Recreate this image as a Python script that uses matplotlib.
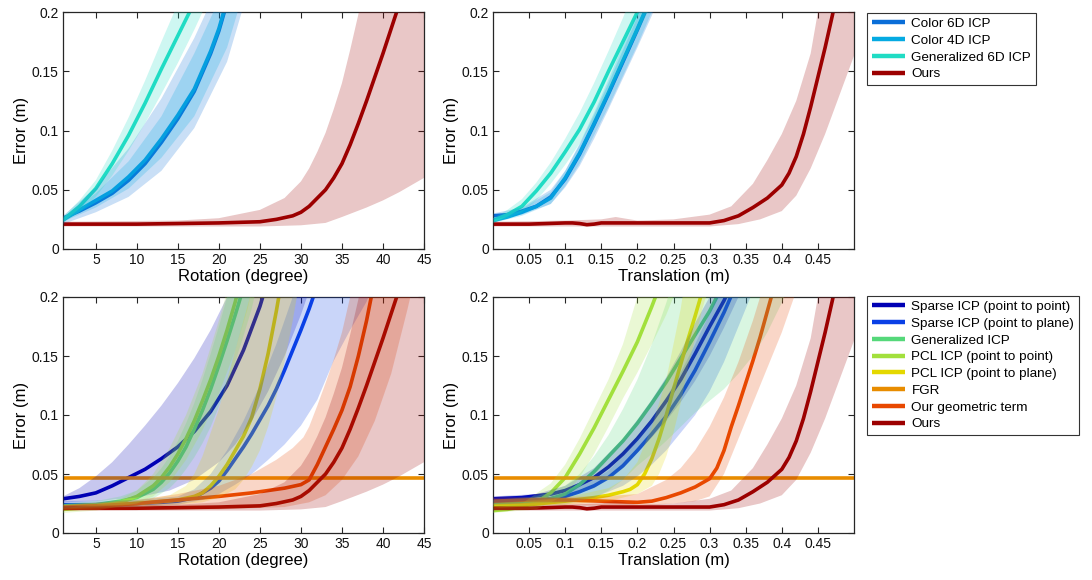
import numpy as np
import matplotlib
matplotlib.use("Agg")
import matplotlib.pyplot as plt

plt.rcParams['font.family'] = ['Liberation Sans', 'DejaVu Sans']

# ---------------- axis ticks / labels ----------------
ROT_TICKS = [5, 10, 15, 20, 25, 30, 35, 40, 45]
ROT_TICK_LABELS = ['5', '10', '15', '20', '25', '30', '35', '40', '45']
TRANS_TICKS = [0.05, 0.1, 0.15, 0.2, 0.25, 0.3, 0.35, 0.4, 0.45]
TRANS_TICK_LABELS = ['0.05', '0.1', '0.15', '0.2', '0.25', '0.3', '0.35', '0.4', '0.45']
Y_TICKS = [0, 0.05, 0.1, 0.15, 0.2]
Y_TICK_LABELS = ['0', '0.05', '0.1', '0.15', '0.2']
ROT_LIM = [1, 45]
TRANS_LIM = [0, 0.5]

TOP_LABELS = ['Color 6D ICP', 'Color 4D ICP', 'Generalized 6D ICP', 'Ours']
BOTTOM_LABELS = ['Sparse ICP (point to point)', 'Sparse ICP (point to plane)', 'Generalized ICP',
                 'PCL ICP (point to point)', 'PCL ICP (point to plane)', 'FGR',
                 'Our geometric term', 'Ours']

# ---------------- colours ----------------
C_COLOR6D = '#0a6ed8'
C_COLOR4D = '#05aae2'
C_GEN6D = '#20dcc4'
C_OURS = '#9c0000'
C_SP2P = '#0000b4'
C_SP2PL = '#0a40e6'
C_GICP = '#55d87a'
C_PCLP2P = '#a2e03c'
C_PCLP2PL = '#e4d800'
C_FGR = '#e88c00'
C_GEO = '#e84800'

# ================= ROTATION: Ours =================
rot_ours_x = [1, 10, 15, 20, 25, 27, 29, 30, 31, 32, 33, 34, 35, 36, 37, 38, 39, 40, 41, 42]
rot_ours_y = [0.021, 0.021, 0.0215, 0.022, 0.023, 0.025, 0.028, 0.031, 0.036, 0.043, 0.050, 0.060,
              0.072, 0.088, 0.106, 0.125, 0.145, 0.165, 0.186, 0.207]
rot_ours_hi_x = [1, 15, 20, 25, 28, 30, 31, 32, 33, 34, 35, 36, 37, 37.5]
rot_ours_hi_y = [0.023, 0.024, 0.026, 0.033, 0.043, 0.057, 0.068, 0.082, 0.098, 0.118, 0.14, 0.168, 0.198, 0.215]
rot_ours_lo_x = [1, 25, 30, 33, 35, 38, 40, 42, 45]
rot_ours_lo_y = [0.019, 0.019, 0.020, 0.022, 0.027, 0.035, 0.041, 0.048, 0.060]

# ---- Rotation: Generalized 6D ICP ----
rot_g6d_x = [1, 3, 5, 7, 9, 11, 13, 15, 17]
rot_g6d_y = [0.0245, 0.036, 0.051, 0.072, 0.096, 0.123, 0.152, 0.180, 0.208]
rot_g6d_hi_x = [1, 3, 5, 7, 9, 11, 13, 15]
rot_g6d_hi_y = [0.027, 0.041, 0.058, 0.083, 0.111, 0.142, 0.175, 0.207]
rot_g6d_lo_x = [1, 3, 5, 7, 9, 11, 13, 15, 17, 18]
rot_g6d_lo_y = [0.022, 0.031, 0.044, 0.062, 0.083, 0.106, 0.131, 0.157, 0.185, 0.2]

# ---- Rotation: Color 4D ICP ----
rot_c4d_x = [1, 3, 5, 7, 9, 11, 13, 15, 17, 19, 20, 21]
rot_c4d_y = [0.0245, 0.033, 0.041, 0.049, 0.061, 0.075, 0.093, 0.113, 0.135, 0.167, 0.186, 0.21]
rot_c4d_hi_x = [1, 5, 9, 13, 17, 20]
rot_c4d_hi_y = [0.026, 0.047, 0.074, 0.112, 0.165, 0.21]
rot_c4d_lo_x = [1, 5, 9, 13, 17, 21, 22.5]
rot_c4d_lo_y = [0.023, 0.035, 0.051, 0.077, 0.112, 0.17, 0.205]

# ---- Rotation: Color 6D ICP ----
rot_c6d_x = [1, 3, 5, 7, 9, 11, 13, 15, 17, 19, 20, 21]
rot_c6d_y = [0.026, 0.032, 0.039, 0.047, 0.058, 0.072, 0.090, 0.110, 0.133, 0.165, 0.184, 0.208]
rot_c6d_hi_x = [1, 5, 9, 13, 17, 19]
rot_c6d_hi_y = [0.028, 0.052, 0.085, 0.127, 0.178, 0.208]
rot_c6d_lo_x = [1, 5, 9, 13, 17, 21, 23]
rot_c6d_lo_y = [0.021, 0.031, 0.044, 0.066, 0.102, 0.158, 0.205]

# ================= TRANSLATION: Ours =================
tr_ours_x = [0, 0.05, 0.1, 0.11, 0.12, 0.13, 0.14, 0.15, 0.2, 0.25, 0.3, 0.32, 0.34, 0.36, 0.38,
             0.40, 0.41, 0.42, 0.43, 0.44, 0.45, 0.46, 0.47, 0.48]
tr_ours_y = [0.021, 0.021, 0.022, 0.022, 0.0215, 0.0205, 0.021, 0.022, 0.022, 0.022, 0.022, 0.024,
             0.028, 0.035, 0.043, 0.054, 0.064, 0.078, 0.097, 0.12, 0.145, 0.17, 0.197, 0.225]
tr_ours_hi_x = [0, 0.1, 0.15, 0.17, 0.2, 0.25, 0.3, 0.33, 0.36, 0.38, 0.40, 0.42, 0.44, 0.45, 0.455]
tr_ours_hi_y = [0.023, 0.024, 0.025, 0.027, 0.024, 0.025, 0.029, 0.036, 0.055, 0.075, 0.097, 0.125,
                0.165, 0.2, 0.215]
tr_ours_lo_x = [0, 0.3, 0.34, 0.37, 0.40, 0.42, 0.44, 0.46, 0.48, 0.5]
tr_ours_lo_y = [0.019, 0.019, 0.021, 0.025, 0.032, 0.045, 0.068, 0.097, 0.13, 0.163]

# ---- Translation: Generalized 6D ICP ----
tr_g6d_x = [0, 0.02, 0.04, 0.06, 0.08, 0.1, 0.12, 0.14, 0.16, 0.18, 0.2, 0.22]
tr_g6d_y = [0.024, 0.029, 0.036, 0.049, 0.064, 0.082, 0.101, 0.124, 0.15, 0.175, 0.2, 0.226]
tr_g6d_hi_x = [0, 0.02, 0.04, 0.06, 0.08, 0.1, 0.12, 0.14, 0.16, 0.18, 0.19]
tr_g6d_hi_y = [0.026, 0.033, 0.042, 0.056, 0.073, 0.093, 0.115, 0.14, 0.167, 0.195, 0.21]
tr_g6d_lo_x = [0, 0.02, 0.04, 0.06, 0.08, 0.1, 0.12, 0.14, 0.16, 0.18, 0.2, 0.22, 0.23]
tr_g6d_lo_y = [0.022, 0.026, 0.031, 0.041, 0.055, 0.071, 0.089, 0.109, 0.133, 0.157, 0.182, 0.207, 0.22]

# ---- Translation: Color 4D ICP ----
tr_c4d_x = [0, 0.02, 0.04, 0.06, 0.08, 0.1, 0.12, 0.14, 0.16, 0.18, 0.2, 0.22]
tr_c4d_y = [0.024, 0.027, 0.031, 0.036, 0.043, 0.060, 0.081, 0.106, 0.132, 0.159, 0.186, 0.214]
tr_c4d_hi_x = [0, 0.04, 0.08, 0.1, 0.12, 0.14, 0.16, 0.18, 0.2, 0.21]
tr_c4d_hi_y = [0.026, 0.034, 0.048, 0.066, 0.089, 0.115, 0.143, 0.172, 0.2, 0.215]
tr_c4d_lo_x = [0, 0.04, 0.08, 0.1, 0.12, 0.14, 0.16, 0.18, 0.2, 0.22, 0.23]
tr_c4d_lo_y = [0.022, 0.028, 0.038, 0.053, 0.072, 0.096, 0.12, 0.146, 0.172, 0.2, 0.215]

# ---- Translation: Color 6D ICP ----
tr_c6d_x = [0, 0.02, 0.04, 0.06, 0.08, 0.1, 0.12, 0.14, 0.16, 0.18, 0.2, 0.22]
tr_c6d_y = [0.028, 0.029, 0.032, 0.036, 0.044, 0.059, 0.080, 0.105, 0.131, 0.158, 0.185, 0.213]
tr_c6d_hi_x = [0, 0.04, 0.08, 0.1, 0.12, 0.14, 0.16, 0.18, 0.2, 0.21]
tr_c6d_hi_y = [0.030, 0.035, 0.05, 0.066, 0.088, 0.113, 0.14, 0.168, 0.196, 0.212]
tr_c6d_lo_x = [0, 0.04, 0.08, 0.1, 0.12, 0.14, 0.16, 0.18, 0.2, 0.22, 0.23]
tr_c6d_lo_y = [0.025, 0.029, 0.038, 0.052, 0.07, 0.093, 0.118, 0.144, 0.17, 0.197, 0.212]

# ================= ROTATION (bottom) =================
rot_sp2p_x = [1, 3, 5, 7, 9, 11, 13, 15, 17, 19, 21, 23, 25, 26]
rot_sp2p_y = [0.029, 0.031, 0.034, 0.040, 0.047, 0.054, 0.063, 0.073, 0.086, 0.103, 0.125, 0.155, 0.192, 0.215]
rot_sp2p_hi_x = [1, 3, 5, 7, 9, 11, 13, 15, 17, 19, 21, 22]
rot_sp2p_hi_y = [0.031, 0.038, 0.048, 0.06, 0.075, 0.091, 0.108, 0.127, 0.148, 0.172, 0.2, 0.215]
rot_sp2p_lo_x = [1, 5, 10, 14, 17, 20, 22, 24, 26, 28, 30, 31]
rot_sp2p_lo_y = [0.026, 0.027, 0.03, 0.036, 0.045, 0.06, 0.075, 0.095, 0.12, 0.15, 0.185, 0.205]

rot_sp2pl_x = [1, 5, 10, 13, 15, 17, 19, 20, 21, 22, 23, 24, 25, 26, 27, 28, 29, 30, 31, 32]
rot_sp2pl_y = [0.024, 0.024, 0.025, 0.026, 0.027, 0.030, 0.038, 0.044, 0.053, 0.063, 0.073, 0.084,
               0.096, 0.108, 0.122, 0.138, 0.155, 0.172, 0.19, 0.21]
rot_sp2pl_hi_x = [1, 10, 15, 17, 19, 21, 23, 25, 27, 29, 30]
rot_sp2pl_hi_y = [0.027, 0.028, 0.031, 0.037, 0.05, 0.07, 0.095, 0.125, 0.16, 0.2, 0.215]
rot_sp2pl_lo_x = [1, 10, 15, 18, 20, 22, 24, 26, 28, 30, 32, 34, 36, 38, 38.5]
rot_sp2pl_lo_y = [0.021, 0.022, 0.024, 0.028, 0.033, 0.041, 0.05, 0.062, 0.075, 0.091, 0.113, 0.146,
                  0.172, 0.196, 0.205]

rot_gicp_x = [1, 5, 8, 10, 12, 13, 14, 15, 16, 17, 18, 19, 20, 21, 22, 23]
rot_gicp_y = [0.023, 0.024, 0.027, 0.030, 0.037, 0.043, 0.051, 0.061, 0.073, 0.088, 0.104, 0.122,
              0.142, 0.163, 0.185, 0.208]
rot_gicp_hi_x = [1, 5, 8, 10, 12, 13, 14, 15, 16, 17, 18, 19, 20, 21, 21.5]
rot_gicp_hi_y = [0.025, 0.027, 0.031, 0.036, 0.047, 0.055, 0.065, 0.078, 0.093, 0.11, 0.13, 0.152,
                 0.175, 0.2, 0.215]
rot_gicp_lo_x = [1, 5, 10, 12, 14, 15, 16, 17, 18, 19, 20, 21, 22, 23, 24, 24.5]
rot_gicp_lo_y = [0.021, 0.022, 0.025, 0.029, 0.038, 0.045, 0.054, 0.064, 0.076, 0.09, 0.107, 0.125,
                 0.145, 0.167, 0.19, 0.205]

rot_pp2p_x = [1, 5, 8, 10, 12, 13, 14, 15, 16, 17, 18, 19, 20, 21, 22, 22.5]
rot_pp2p_y = [0.020, 0.022, 0.026, 0.031, 0.040, 0.047, 0.056, 0.067, 0.080, 0.095, 0.112, 0.13,
              0.15, 0.172, 0.196, 0.21]
rot_pp2p_hi_x = [1, 5, 8, 10, 12, 14, 16, 18, 20, 21]
rot_pp2p_hi_y = [0.021, 0.024, 0.029, 0.036, 0.05, 0.072, 0.1, 0.135, 0.18, 0.205]
rot_pp2p_lo_x = [1, 5, 10, 12, 14, 16, 18, 20, 22, 23.5, 24]
rot_pp2p_lo_y = [0.017, 0.019, 0.025, 0.031, 0.043, 0.062, 0.087, 0.118, 0.155, 0.19, 0.205]

rot_pp2pl_x = [1, 5, 10, 15, 17, 18, 19, 20, 21, 22, 23, 24, 25, 26, 27, 27.5]
rot_pp2pl_y = [0.022, 0.023, 0.025, 0.028, 0.031, 0.034, 0.040, 0.048, 0.058, 0.070, 0.082, 0.098,
               0.122, 0.152, 0.188, 0.208]
rot_pp2pl_hi_x = [1, 10, 14, 16, 17, 18, 19, 20, 21, 22, 23, 24]
rot_pp2pl_hi_y = [0.024, 0.027, 0.032, 0.04, 0.05, 0.065, 0.085, 0.105, 0.13, 0.155, 0.18, 0.205]
rot_pp2pl_lo_x = [1, 10, 15, 18, 20, 22, 23, 24, 25, 26, 27, 28, 29, 29.5, 30]
rot_pp2pl_lo_y = [0.02, 0.022, 0.024, 0.026, 0.03, 0.037, 0.045, 0.056, 0.07, 0.09, 0.115, 0.145,
                  0.18, 0.2, 0.215]

rot_fgr_x = [1, 45]
rot_fgr_y = [0.047, 0.047]

rot_geo_x = [1, 5, 10, 15, 20, 24, 28, 30, 31, 32, 33, 34, 35, 36, 37, 38, 39]
rot_geo_y = [0.022, 0.023, 0.025, 0.028, 0.031, 0.034, 0.038, 0.041, 0.045, 0.058, 0.073, 0.088,
             0.104, 0.124, 0.15, 0.18, 0.215]
rot_geo_hi_x = [1, 10, 15, 20, 24, 27, 29, 30.3, 31, 32, 33, 34, 35, 36, 36.5]
rot_geo_hi_y = [0.024, 0.028, 0.033, 0.04, 0.05, 0.062, 0.072, 0.081, 0.09, 0.108, 0.127, 0.147,
                0.17, 0.2, 0.215]
rot_geo_lo_x = [1, 20, 28, 31, 33, 35, 37, 39, 41, 43, 43.5]
rot_geo_lo_y = [0.019, 0.02, 0.022, 0.026, 0.032, 0.045, 0.065, 0.095, 0.135, 0.19, 0.205]

# ================= TRANSLATION (bottom) =================
tr_sp2p_x = [0, 0.04, 0.08, 0.1, 0.12, 0.14, 0.16, 0.18, 0.2, 0.22, 0.24, 0.26, 0.28, 0.3, 0.32, 0.33]
tr_sp2p_y = [0.029, 0.030, 0.033, 0.036, 0.041, 0.047, 0.056, 0.067, 0.080, 0.095, 0.112, 0.13,
             0.152, 0.175, 0.197, 0.21]
tr_sp2p_hi_x = [0, 0.06, 0.1, 0.14, 0.18, 0.2, 0.22, 0.24, 0.26, 0.28, 0.3, 0.31]
tr_sp2p_hi_y = [0.031, 0.033, 0.04, 0.055, 0.08, 0.096, 0.113, 0.132, 0.154, 0.178, 0.2, 0.215]
tr_sp2p_lo_x = [0, 0.06, 0.1, 0.14, 0.18, 0.2, 0.22, 0.24, 0.26, 0.28, 0.3, 0.32, 0.34, 0.35]
tr_sp2p_lo_y = [0.026, 0.027, 0.03, 0.038, 0.055, 0.068, 0.081, 0.095, 0.111, 0.129, 0.15, 0.174,
                0.2, 0.215]

tr_sp2pl_x = [0, 0.04, 0.08, 0.1, 0.12, 0.14, 0.16, 0.18, 0.2, 0.22, 0.24, 0.26, 0.28, 0.3, 0.32, 0.34]
tr_sp2pl_y = [0.027, 0.027, 0.029, 0.031, 0.035, 0.040, 0.047, 0.057, 0.070, 0.084, 0.099, 0.117,
              0.138, 0.162, 0.187, 0.215]
tr_sp2pl_hi_x = [0, 0.1, 0.14, 0.16, 0.18, 0.2, 0.22, 0.24, 0.26, 0.28, 0.3, 0.31, 0.32]
tr_sp2pl_hi_y = [0.03, 0.034, 0.045, 0.053, 0.065, 0.08, 0.097, 0.115, 0.136, 0.16, 0.186, 0.2, 0.215]
tr_sp2pl_lo_x = [0, 0.1, 0.14, 0.18, 0.2, 0.22, 0.24, 0.26, 0.28, 0.3, 0.32, 0.34, 0.36]
tr_sp2pl_lo_y = [0.024, 0.026, 0.03, 0.04, 0.048, 0.058, 0.07, 0.085, 0.1, 0.12, 0.145, 0.175, 0.205]

tr_gicp_x = [0, 0.04, 0.08, 0.1, 0.12, 0.14, 0.16, 0.18, 0.2, 0.22, 0.24, 0.26, 0.28, 0.3, 0.32]
tr_gicp_y = [0.025, 0.026, 0.029, 0.033, 0.041, 0.052, 0.065, 0.078, 0.093, 0.11, 0.128, 0.148,
             0.168, 0.188, 0.212]
tr_gicp_hi_x = [0, 0.06, 0.1, 0.12, 0.14, 0.16, 0.18, 0.2, 0.22, 0.24, 0.25]
tr_gicp_hi_y = [0.028, 0.031, 0.04, 0.05, 0.065, 0.083, 0.105, 0.13, 0.16, 0.195, 0.215]
tr_gicp_lo_x = [0, 0.1, 0.14, 0.16, 0.18, 0.2, 0.22, 0.24, 0.26, 0.28, 0.3, 0.32, 0.34, 0.36, 0.38,
                0.4, 0.41]
tr_gicp_lo_y = [0.022, 0.024, 0.03, 0.036, 0.045, 0.057, 0.067, 0.078, 0.09, 0.102, 0.112, 0.122,
                0.135, 0.15, 0.17, 0.195, 0.21]

tr_pp2p_x = [0, 0.02, 0.04, 0.06, 0.08, 0.1, 0.12, 0.14, 0.16, 0.18, 0.2, 0.22, 0.23]
tr_pp2p_y = [0.019, 0.020, 0.022, 0.026, 0.034, 0.047, 0.067, 0.089, 0.113, 0.137, 0.162, 0.192, 0.208]
tr_pp2p_hi_x = [0, 0.04, 0.08, 0.1, 0.12, 0.14, 0.16, 0.18, 0.2, 0.21]
tr_pp2p_hi_y = [0.021, 0.025, 0.042, 0.058, 0.08, 0.105, 0.13, 0.16, 0.2, 0.22]
tr_pp2p_lo_x = [0, 0.06, 0.1, 0.12, 0.14, 0.16, 0.18, 0.2, 0.22, 0.24, 0.25, 0.26]
tr_pp2p_lo_y = [0.017, 0.02, 0.032, 0.047, 0.067, 0.09, 0.114, 0.136, 0.16, 0.185, 0.2, 0.215]

tr_pp2pl_x = [0, 0.05, 0.1, 0.14, 0.16, 0.18, 0.19, 0.2, 0.21, 0.22, 0.23, 0.24, 0.25, 0.26, 0.27,
              0.28, 0.29]
tr_pp2pl_y = [0.023, 0.024, 0.027, 0.030, 0.032, 0.035, 0.037, 0.041, 0.05, 0.063, 0.08, 0.1, 0.122,
              0.143, 0.164, 0.184, 0.205]
tr_pp2pl_hi_x = [0, 0.1, 0.16, 0.18, 0.2, 0.22, 0.24, 0.25, 0.26, 0.265]
tr_pp2pl_hi_y = [0.025, 0.03, 0.038, 0.045, 0.06, 0.09, 0.13, 0.16, 0.19, 0.21]
tr_pp2pl_lo_x = [0, 0.1, 0.16, 0.2, 0.22, 0.23, 0.24, 0.25, 0.26, 0.27, 0.28, 0.29, 0.3]
tr_pp2pl_lo_y = [0.021, 0.024, 0.027, 0.033, 0.04, 0.05, 0.065, 0.085, 0.11, 0.14, 0.165, 0.19, 0.21]

tr_fgr_x = [0, 0.5]
tr_fgr_y = [0.047, 0.047]

tr_geo_x = [0, 0.05, 0.1, 0.15, 0.2, 0.22, 0.24, 0.26, 0.28, 0.3, 0.31, 0.32, 0.33, 0.34, 0.35,
            0.36, 0.37, 0.38, 0.39]
tr_geo_y = [0.027, 0.028, 0.028, 0.027, 0.026, 0.027, 0.030, 0.034, 0.039, 0.046, 0.055, 0.07,
            0.09, 0.108, 0.127, 0.146, 0.166, 0.188, 0.21]
tr_geo_hi_x = [0, 0.15, 0.2, 0.24, 0.26, 0.28, 0.3, 0.32, 0.34, 0.36, 0.37, 0.375]
tr_geo_hi_y = [0.03, 0.031, 0.033, 0.045, 0.055, 0.07, 0.09, 0.115, 0.145, 0.18, 0.2, 0.215]
tr_geo_lo_x = [0, 0.2, 0.25, 0.28, 0.3, 0.32, 0.34, 0.36, 0.38, 0.4, 0.42]
tr_geo_lo_y = [0.024, 0.023, 0.025, 0.027, 0.031, 0.05, 0.08, 0.11, 0.14, 0.17, 0.205]

BAND_ALPHA = 0.22
LINE_W = 2.6
SPINE_C = '#262626'


def add_band(ax, hx, hy, lx, ly, color):
    top = Y_TICKS[-1] * 2
    px = list(hx) + [hx[-1], lx[-1]] + list(lx[::-1])
    py = list(hy) + [top, top] + list(ly[::-1])
    ax.fill(px, py, color=color, alpha=BAND_ALPHA, lw=0, zorder=3)


def style_axes(ax, xlim, xticks, xlabels, xlabel):
    ax.set_xlim(*xlim)
    ax.set_ylim(Y_TICKS[0], Y_TICKS[-1])
    ax.set_xticks(xticks)
    ax.set_xticklabels(xlabels)
    ax.set_yticks(Y_TICKS)
    ax.set_yticklabels(Y_TICK_LABELS)
    ax.tick_params(direction='in', top=True, right=True, length=4, width=0.8,
                   color=SPINE_C, labelsize=10, pad=3, labelcolor='#111111')
    for s in ax.spines.values():
        s.set_color(SPINE_C)
        s.set_linewidth(0.9)
    ax.set_xlabel(xlabel, fontsize=12, labelpad=1.5)
    ax.set_ylabel('Error (m)', fontsize=12, labelpad=2)


W, H = 1092, 580
fig = plt.figure(figsize=(W / 100, H / 100), dpi=100)

def axes_px(l, t, r, b):
    return fig.add_axes([l / W, 1 - b / H, (r - l) / W, (b - t) / H])

ax_tl = axes_px(63, 12, 424, 249)
ax_tr = axes_px(493, 12, 854, 249)
ax_bl = axes_px(63, 297, 424, 533)
ax_br = axes_px(493, 297, 854, 533)

top_rot = [
    (rot_c6d_x, rot_c6d_y, rot_c6d_hi_x, rot_c6d_hi_y, rot_c6d_lo_x, rot_c6d_lo_y, C_COLOR6D),
    (rot_c4d_x, rot_c4d_y, rot_c4d_hi_x, rot_c4d_hi_y, rot_c4d_lo_x, rot_c4d_lo_y, C_COLOR4D),
    (rot_g6d_x, rot_g6d_y, rot_g6d_hi_x, rot_g6d_hi_y, rot_g6d_lo_x, rot_g6d_lo_y, C_GEN6D),
    (rot_ours_x, rot_ours_y, rot_ours_hi_x, rot_ours_hi_y, rot_ours_lo_x, rot_ours_lo_y, C_OURS),
]
top_tr = [
    (tr_c6d_x, tr_c6d_y, tr_c6d_hi_x, tr_c6d_hi_y, tr_c6d_lo_x, tr_c6d_lo_y, C_COLOR6D),
    (tr_c4d_x, tr_c4d_y, tr_c4d_hi_x, tr_c4d_hi_y, tr_c4d_lo_x, tr_c4d_lo_y, C_COLOR4D),
    (tr_g6d_x, tr_g6d_y, tr_g6d_hi_x, tr_g6d_hi_y, tr_g6d_lo_x, tr_g6d_lo_y, C_GEN6D),
    (tr_ours_x, tr_ours_y, tr_ours_hi_x, tr_ours_hi_y, tr_ours_lo_x, tr_ours_lo_y, C_OURS),
]
bot_rot = [
    (rot_sp2p_x, rot_sp2p_y, rot_sp2p_hi_x, rot_sp2p_hi_y, rot_sp2p_lo_x, rot_sp2p_lo_y, C_SP2P),
    (rot_sp2pl_x, rot_sp2pl_y, rot_sp2pl_hi_x, rot_sp2pl_hi_y, rot_sp2pl_lo_x, rot_sp2pl_lo_y, C_SP2PL),
    (rot_gicp_x, rot_gicp_y, rot_gicp_hi_x, rot_gicp_hi_y, rot_gicp_lo_x, rot_gicp_lo_y, C_GICP),
    (rot_pp2p_x, rot_pp2p_y, rot_pp2p_hi_x, rot_pp2p_hi_y, rot_pp2p_lo_x, rot_pp2p_lo_y, C_PCLP2P),
    (rot_pp2pl_x, rot_pp2pl_y, rot_pp2pl_hi_x, rot_pp2pl_hi_y, rot_pp2pl_lo_x, rot_pp2pl_lo_y, C_PCLP2PL),
    (rot_fgr_x, rot_fgr_y, None, None, None, None, C_FGR),
    (rot_geo_x, rot_geo_y, rot_geo_hi_x, rot_geo_hi_y, rot_geo_lo_x, rot_geo_lo_y, C_GEO),
    (rot_ours_x, rot_ours_y, rot_ours_hi_x, rot_ours_hi_y, rot_ours_lo_x, rot_ours_lo_y, C_OURS),
]
bot_tr = [
    (tr_sp2p_x, tr_sp2p_y, tr_sp2p_hi_x, tr_sp2p_hi_y, tr_sp2p_lo_x, tr_sp2p_lo_y, C_SP2P),
    (tr_sp2pl_x, tr_sp2pl_y, tr_sp2pl_hi_x, tr_sp2pl_hi_y, tr_sp2pl_lo_x, tr_sp2pl_lo_y, C_SP2PL),
    (tr_gicp_x, tr_gicp_y, tr_gicp_hi_x, tr_gicp_hi_y, tr_gicp_lo_x, tr_gicp_lo_y, C_GICP),
    (tr_pp2p_x, tr_pp2p_y, tr_pp2p_hi_x, tr_pp2p_hi_y, tr_pp2p_lo_x, tr_pp2p_lo_y, C_PCLP2P),
    (tr_pp2pl_x, tr_pp2pl_y, tr_pp2pl_hi_x, tr_pp2pl_hi_y, tr_pp2pl_lo_x, tr_pp2pl_lo_y, C_PCLP2PL),
    (tr_fgr_x, tr_fgr_y, None, None, None, None, C_FGR),
    (tr_geo_x, tr_geo_y, tr_geo_hi_x, tr_geo_hi_y, tr_geo_lo_x, tr_geo_lo_y, C_GEO),
    (tr_ours_x, tr_ours_y, tr_ours_hi_x, tr_ours_hi_y, tr_ours_lo_x, tr_ours_lo_y, C_OURS),
]


def draw_panel(ax, series):
    handles = []
    for x, y, hx, hy, lx, ly, c in series:
        h, = ax.plot(x, y, color=c, lw=LINE_W, zorder=2, solid_capstyle='butt',
                     solid_joinstyle='round')
        handles.append(h)
    for x, y, hx, hy, lx, ly, c in series:
        if hx is not None:
            add_band(ax, hx, hy, lx, ly, c)
    return handles


h_top = draw_panel(ax_tl, top_rot)
draw_panel(ax_tr, top_tr)
h_bot = draw_panel(ax_bl, bot_rot)
draw_panel(ax_br, bot_tr)

style_axes(ax_tl, ROT_LIM, ROT_TICKS, ROT_TICK_LABELS, 'Rotation (degree)')
style_axes(ax_tr, TRANS_LIM, TRANS_TICKS, TRANS_TICK_LABELS, 'Translation (m)')
style_axes(ax_bl, ROT_LIM, ROT_TICKS, ROT_TICK_LABELS, 'Rotation (degree)')
style_axes(ax_br, TRANS_LIM, TRANS_TICKS, TRANS_TICK_LABELS, 'Translation (m)')

leg_kw = dict(loc='upper left', frameon=True, fancybox=False, edgecolor='#333333',
              fontsize=9.7, borderpad=0.35, labelspacing=0.32, handlelength=2.5,
              handletextpad=0.45, borderaxespad=0.0, framealpha=1)
leg1 = fig.legend(h_top, TOP_LABELS, bbox_to_anchor=(867 / W, 1 - 13 / H), **leg_kw)
leg2 = fig.legend(h_bot, BOTTOM_LABELS, bbox_to_anchor=(867 / W, 1 - 296 / H), **leg_kw)
for lg in (leg1, leg2):
    lg.get_frame().set_linewidth(0.8)
    for ln in lg.get_lines():
        ln.set_linewidth(3.2)

fig.savefig('out.png', dpi=100)
